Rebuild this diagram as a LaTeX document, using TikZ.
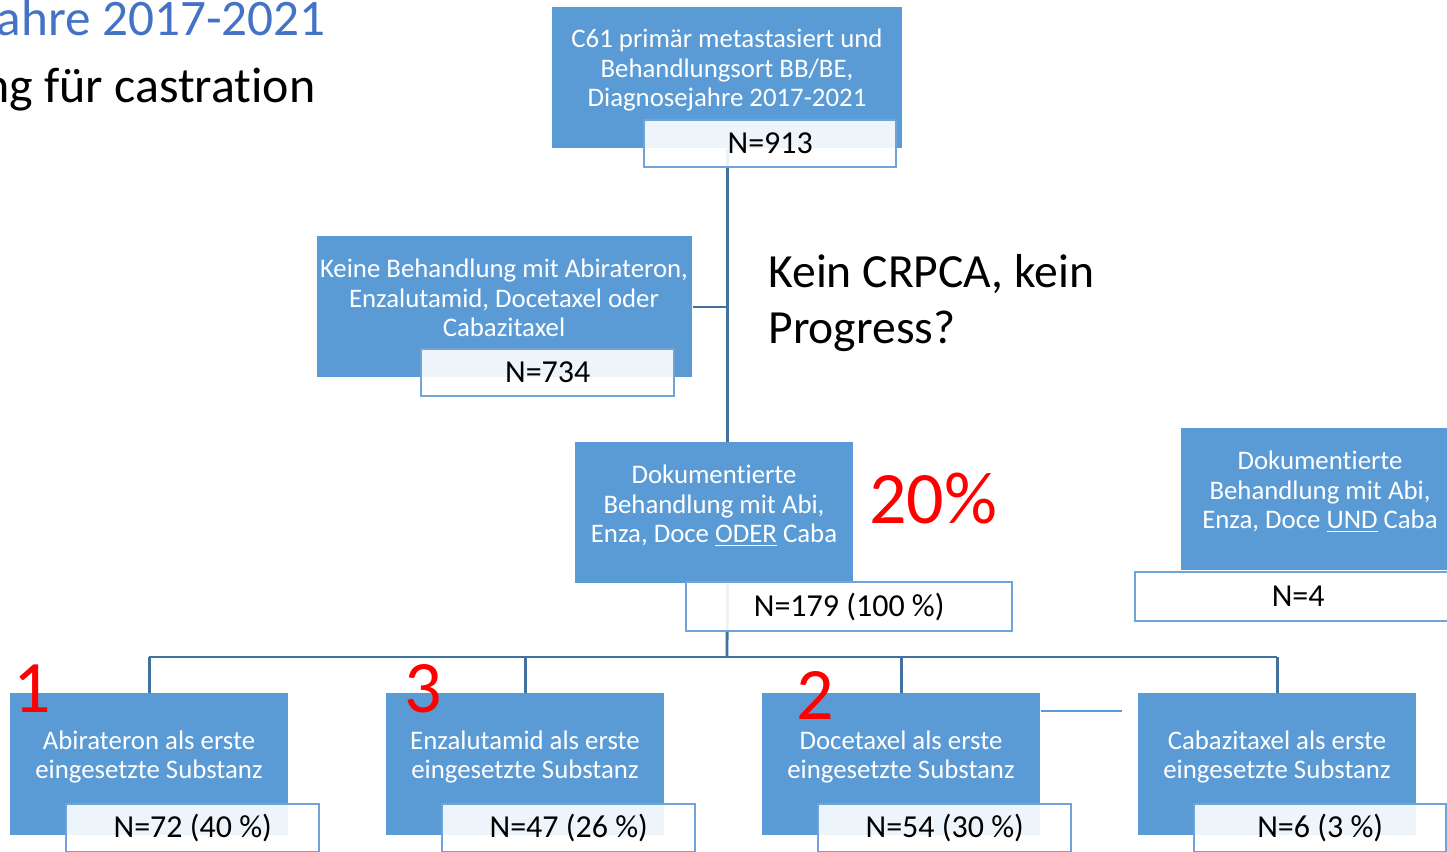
\documentclass[tikz,border=0pt]{standalone}
\usepackage{fontspec}
\setmainfont{Carlito}[Ligatures={NoCommon}]
\definecolor{boxblue}{HTML}{5B9BD5}
\definecolor{lineblue}{HTML}{41719C}
\definecolor{nblue}{HTML}{6FA3DA}
\definecolor{titleblue}{HTML}{4472C4}
\definecolor{redtxt}{HTML}{FF0000}
\tikzset{
  bluebox/.style={rectangle, fill=boxblue, draw=none, inner sep=0pt, anchor=north west, minimum height=70.5pt},
  nbox/.style={rectangle, fill=white, fill opacity=0.9, text opacity=1, draw=nblue, line width=1.2pt, inner sep=0pt, anchor=north west, minimum height=24pt, font=\fontsize{16}{18}\selectfont, text=black},
  btext/.style={text=white, align=center, inner sep=0pt, font=\fontsize{13.4}{14.75}\selectfont},
  conn/.style={draw=lineblue, line width=1.4pt},
  stubline/.style={draw=boxblue, line width=1.4pt},
  rednum/.style={text=redtxt, inner sep=0pt, anchor=base, font=\fontsize{37}{40}\selectfont},
}
\begin{document}
\begin{tikzpicture}[x=0.5pt,y=-0.5pt]
\useasboundingbox (0,0) rectangle (1447,852);
\clip (0,0) rectangle (1447,852);
\fill[white] (0,0) rectangle (1447,852);

% title fragments
\node[anchor=base east, inner sep=0pt, text=titleblue, font=\fontsize{25.6}{28}\selectfont] (title1) at (326,35) {ahre 2017-2021};
\node[anchor=base east, inner sep=0pt, text=black, font=\fontsize{25}{28}\selectfont] (title2) at (316,102) {ng für castration};

% coordinates
\coordinate (hub) at (727,657);
\coordinate (stubend) at (1122,711);

% boxes (positions only, drawn later)
\path
  node[bluebox, minimum width=175pt] (top) at (552,7) {}
  node[bluebox, minimum width=187.5pt] (keine) at (317,236) {}
  node[bluebox, minimum width=139pt] (dok) at (575,442) {}
  node[bluebox, minimum width=139.5pt, minimum height=71pt] (und) at (1181,428) {}
  node[bluebox, minimum width=139pt, minimum height=71pt] (abi) at (10,693) {}
  node[bluebox, minimum width=139pt, minimum height=71pt] (enza) at (386,693) {}
  node[bluebox, minimum width=139pt, minimum height=71pt] (doce) at (762,693) {}
  node[bluebox, minimum width=139pt, minimum height=71pt] (caba) at (1138,693) {};

% connectors (behind boxes)
\draw[conn] (top.south) -- (top.south |- dok.north);
\draw[conn] (keine.east) -- (keine.east -| top.south);
\draw[conn] (top.south |- dok.south) -- (hub);
\draw[conn] (abi.north |- hub) -- (caba.north |- hub);
\draw[conn] (abi.north |- hub) -- (abi.north);
\draw[conn] (enza.north |- hub) -- (enza.north);
\draw[conn] (doce.north |- hub) -- (doce.north);
\draw[conn] (caba.north |- hub) -- (caba.north);
\draw[stubline] (stubend -| doce.east) -- (stubend);

% redraw boxes on top
\node[bluebox, minimum width=175pt] at (552,7) {};
\node[bluebox, minimum width=187.5pt] at (317,236) {};
\node[bluebox, minimum width=139pt] at (575,442) {};
\node[bluebox, minimum width=139.5pt, minimum height=71pt] at (1181,428) {};
\node[bluebox, minimum width=139pt, minimum height=71pt] at (10,693) {};
\node[bluebox, minimum width=139pt, minimum height=71pt] at (386,693) {};
\node[bluebox, minimum width=139pt, minimum height=71pt] at (762,693) {};
\node[bluebox, minimum width=139pt, minimum height=71pt] at (1138,693) {};

% box texts
\node[btext] (toptext) at (727,70) {C61 primär metastasiert und\\Behandlungsort BB/BE,\\Diagnosejahre 2017-2021};
\node[btext] (keinetext) at (504,298) {Keine Behandlung mit Abirateron,\\Enzalutamid, Docetaxel oder\\Cabazitaxel};
\node[btext] (doktext) at (714,506) {Dokumentierte\\Behandlung mit Abi,\\Enza, Doce \underline{ODER} Caba};
\node[btext] (undtext) at (1320,492) {Dokumentierte\\Behandlung mit Abi,\\Enza, Doce \underline{UND} Caba};
\node[btext] (abitext) at (149,757) {Abirateron als erste\\eingesetzte Substanz};
\node[btext] (enzatext) at (525,757) {Enzalutamid als erste\\eingesetzte Substanz};
\node[btext] (docetext) at (901,757) {Docetaxel als erste\\eingesetzte Substanz};
\node[btext] (cabatext) at (1277,757) {Cabazitaxel als erste\\eingesetzte Substanz};

% N boxes
\node[nbox, minimum width=126pt, minimum height=23.5pt] (topN) at (643,119) {N=913};
\node[nbox, minimum width=126.5pt, minimum height=23.5pt] (keineN) at (420,348) {N=734};
\node[nbox, minimum width=163pt, minimum height=24.5pt] (dokN) at (685,581) {N=179 (100 \%)};
\node[nbox, minimum width=163pt, minimum height=24.5pt] (undN) at (1134,571) {N=4};
\node[nbox, minimum width=126.5pt] (abiN) at (65,803) {N=72 (40 \%)};
\node[nbox, minimum width=126.5pt] (enzaN) at (441,803) {N=47 (26 \%)};
\node[nbox, minimum width=126.5pt] (doceN) at (817,803) {N=54 (30 \%)};
\node[nbox, minimum width=126pt] (cabaN) at (1193,803) {N=6 (3 \%)};

% free texts
\node[anchor=base west, inner sep=0pt, font=\fontsize{23.8}{28}\selectfont] (kein1) at (768,287) {Kein CRPCA, kein};
\node[anchor=base west, inner sep=0pt, font=\fontsize{23.8}{28}\selectfont] (kein2) at (768,343) {Progress?};
\node[rednum] (pct) at (933,523) {20\%};
\node[rednum] (r1) at (32,712) {1};
\node[rednum] (r3) at (423,712) {3};
\node[rednum] (r2) at (815,719) {2};
\end{tikzpicture}
\end{document}
